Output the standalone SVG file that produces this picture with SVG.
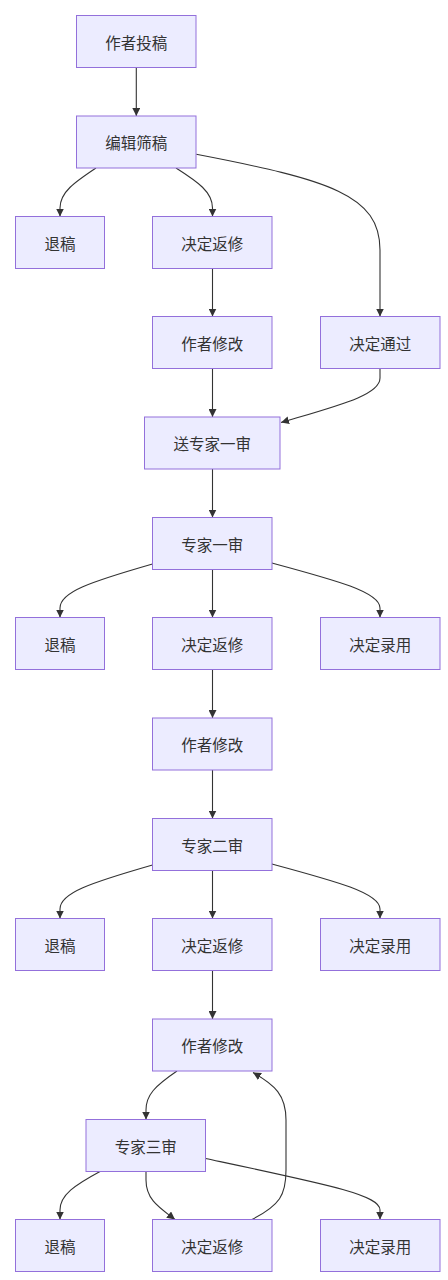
<svg xmlns="http://www.w3.org/2000/svg" width="448" height="1280" viewBox="0 0 448 1280">
<style>
.n rect{fill:#ECECFF;stroke:#9370DB;stroke-width:1}
.n text{font-family:"Noto Sans CJK SC","Noto Sans",sans-serif;font-size:15.5px;fill:#333;text-anchor:middle;dominant-baseline:central}
.e path{fill:none;stroke:#333;stroke-width:1.1;marker-end:url(#arr)}
</style>
<defs>
<marker id="arr" viewBox="0 0 10 10" refX="10" refY="5" markerWidth="8" markerHeight="8" markerUnits="userSpaceOnUse" orient="auto"><path d="M0,0 L10,5 L0,10 z" fill="#333"/></marker>
</defs>
<rect width="448" height="1280" fill="#fff"/>
<g class="e" id="edges">
<path d="M136.3,68 L136.3,116"/>
<path d="M96,168 C75,182 60,192 60,208 L60,216.5"/>
<path d="M176,168 C198,182 212.5,192 212.5,208 L212.5,216.5"/>
<path d="M196.3,154.3 C330,180 380,195 380,250 L380,316.5"/>
<path d="M212.5,268.5 L212.5,316.5"/>
<path d="M212.5,368.5 L212.5,417"/>
<path d="M380,368.5 L380,378 C380,395 340,405 281,422.5"/>
<path d="M212.5,469 L212.5,517.5"/>
<path d="M152.5,564 C90,582 60,592 60,608 L60,617.5"/>
<path d="M212.5,569.5 L212.5,617.5"/>
<path d="M272,563 C335,580 380,592 380,608 L380,617.5"/>
<path d="M212.5,669.5 L212.5,718"/>
<path d="M212.5,770 L212.5,818.5"/>
<path d="M152.5,865 C90,883 60,893 60,909 L60,918.5"/>
<path d="M212.5,870.5 L212.5,918.5"/>
<path d="M272,864 C335,881 380,893 380,909 L380,918.5"/>
<path d="M212.5,970.5 L212.5,1019"/>
<path d="M177,1071 C155,1086 146,1095 146,1110 L146,1119.5"/>
<path d="M100,1171.5 C75,1185 60,1195 60,1210 L60,1219.5"/>
<path d="M146,1171.5 L146,1180 C146,1200 160,1208 175,1219.5"/>
<path d="M205.5,1158.5 C330,1185 380,1195 380,1210 L380,1219.5"/>
<path d="M252,1219.5 C280,1205 286,1195 286,1170 L286,1120 C286,1095 275,1085 253,1072.5"/>
</g>
<g class="n" id="n1"><rect x="76.5" y="15.5" width="119.5" height="52"/><text x="136.3" y="41.5">作者投稿</text></g>
<g class="n" id="n2"><rect x="76.5" y="116" width="119.5" height="52"/><text x="136.3" y="142">编辑筛稿</text></g>
<g class="n" id="n3"><rect x="15.5" y="216.5" width="89" height="52"/><text x="60" y="242.5">退稿</text></g>
<g class="n" id="n4"><rect x="152.5" y="216.5" width="119.5" height="52"/><text x="212.3" y="242.5">决定返修</text></g>
<g class="n" id="n5"><rect x="152.5" y="316.5" width="119.5" height="52"/><text x="212.3" y="342.5">作者修改</text></g>
<g class="n" id="n6"><rect x="320.5" y="316.5" width="119.5" height="52"/><text x="380.2" y="342.5">决定通过</text></g>
<g class="n" id="n7"><rect x="144.5" y="417" width="135.5" height="52"/><text x="212.3" y="443">送专家一审</text></g>
<g class="n" id="n8"><rect x="152.5" y="517.5" width="119.5" height="52"/><text x="212.3" y="543.5">专家一审</text></g>
<g class="n" id="n9"><rect x="15.5" y="617.5" width="89" height="52"/><text x="60" y="643.5">退稿</text></g>
<g class="n" id="n10"><rect x="152.5" y="617.5" width="119.5" height="52"/><text x="212.3" y="643.5">决定返修</text></g>
<g class="n" id="n11"><rect x="320.5" y="617.5" width="119.5" height="52"/><text x="380.2" y="643.5">决定录用</text></g>
<g class="n" id="n12"><rect x="152.5" y="718" width="119.5" height="52"/><text x="212.3" y="744">作者修改</text></g>
<g class="n" id="n13"><rect x="152.5" y="818.5" width="119.5" height="52"/><text x="212.3" y="844.5">专家二审</text></g>
<g class="n" id="n14"><rect x="15.5" y="918.5" width="89" height="52"/><text x="60" y="944.5">退稿</text></g>
<g class="n" id="n15"><rect x="152.5" y="918.5" width="119.5" height="52"/><text x="212.3" y="944.5">决定返修</text></g>
<g class="n" id="n16"><rect x="320.5" y="918.5" width="119.5" height="52"/><text x="380.2" y="944.5">决定录用</text></g>
<g class="n" id="n17"><rect x="152.5" y="1019" width="119.5" height="52"/><text x="212.3" y="1045">作者修改</text></g>
<g class="n" id="n18"><rect x="86" y="1119.5" width="119.5" height="52"/><text x="145.8" y="1145.5">专家三审</text></g>
<g class="n" id="n19"><rect x="15.5" y="1219.5" width="89" height="52"/><text x="60" y="1245.5">退稿</text></g>
<g class="n" id="n20"><rect x="152.5" y="1219.5" width="119.5" height="52"/><text x="212.3" y="1245.5">决定返修</text></g>
<g class="n" id="n21"><rect x="320.5" y="1219.5" width="119.5" height="52"/><text x="380.2" y="1245.5">决定录用</text></g>
</svg>
